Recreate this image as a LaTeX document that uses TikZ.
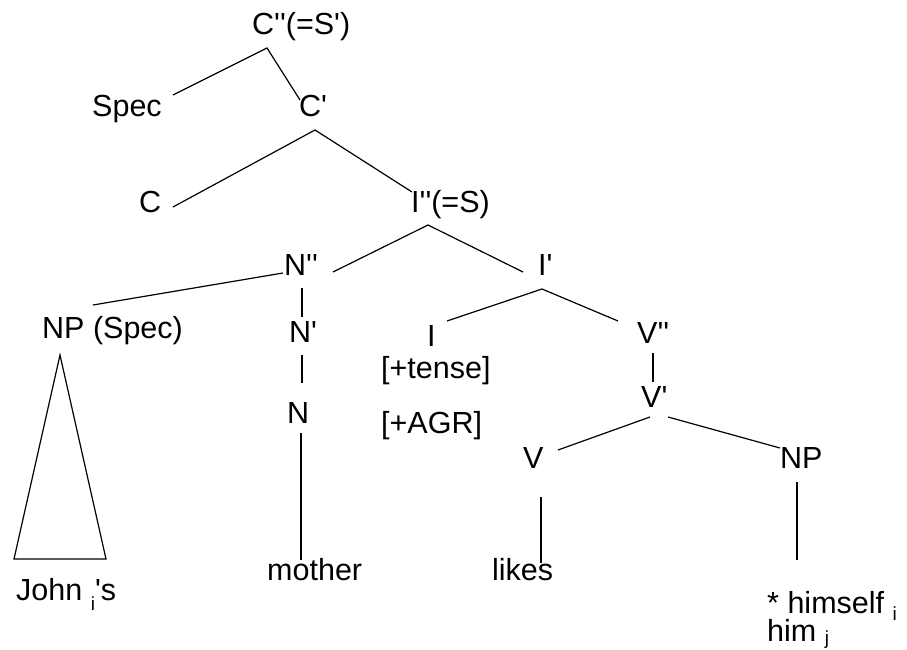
\documentclass[tikz,border=0pt]{standalone}
\usepackage{fontspec}
\newfontfamily\arl{Liberation Sans}
\newcommand{\sbi}[2]{\raisebox{#1}{\fontsize{19pt}{19pt}\selectfont #2}}
\begin{document}
\begin{tikzpicture}[x=1pt,y=-1pt,
  lbl/.style={inner sep=0pt,anchor=base west,font=\arl\fontsize{30.5pt}{32pt}\selectfont},
  edge/.style={line width=1.2pt,black}]
\useasboundingbox (0,0) rectangle (907,650);
% labels
\node[lbl] (cpp) at (252,35) {C''(=S')};
\node[lbl] (spec) at (92,117) {Spec};
\node[lbl] (cp) at (299,117) {C'};
\node[lbl] (c) at (139,212) {C};
\node[lbl] (ipp) at (411,212) {I''(=S)};
\node[lbl] (npp) at (284,275) {N''};
\node[lbl] (nps) at (42,338) {NP (Spec)};
\node[lbl] (np1) at (289,342) {N'};
\node[lbl] (n) at (287,423) {N};
\node[lbl] (ip) at (538,275) {I'};
\node[lbl] (i) at (427,346) {I};
\node[lbl] (tense) at (381,378) {[+tense]};
\node[lbl] (agr) at (381,433) {[+AGR]};
\node[lbl] (vpp) at (637,343) {V''};
\node[lbl] (vp) at (641,407) {V'};
\node[lbl] (v) at (523,468) {V};
\node[lbl] (np) at (780,468) {NP};
\node[lbl] (john) at (16,600) {John \sbi{-10pt}{i}'s};
\node[lbl] (mother) at (267,580) {mother};
\node[lbl] (likes) at (492,580) {likes};
\node[lbl] (himself) at (767,613) {* himself \sbi{-7pt}{i}};
\node[lbl] (him) at (767,641) {him \sbi{-3pt}{j}};
% connector end points
\coordinate (cpp-b) at (267,48);
\coordinate (spec-t) at (173,95);
\coordinate (cp-t) at (300,100);
\coordinate (cp-b) at (315,130);
\coordinate (c-t) at (173,207);
\coordinate (ipp-t) at (412,192);
\coordinate (ipp-b) at (428,225);
\coordinate (npp-t) at (333,272);
\coordinate (ip-t) at (523,272);
\coordinate (npp-l) at (283,273);
\coordinate (nps-t) at (93,305);
\coordinate (npp-b) at (302,288);
\coordinate (np1-t) at (302,317);
\coordinate (np1-b) at (302,355);
\coordinate (n-t) at (302,383);
\coordinate (n-b) at (301,433);
\coordinate (mother-t) at (301,560);
\coordinate (ip-b) at (542,289);
\coordinate (i-t) at (447,321);
\coordinate (vpp-t) at (618,321);
\coordinate (vpp-b) at (653,353);
\coordinate (vp-t) at (653,382);
\coordinate (vp-bl) at (650,417);
\coordinate (vp-br) at (668,417);
\coordinate (v-t) at (558,450);
\coordinate (np-t) at (780,448);
\coordinate (v-b) at (541,497);
\coordinate (likes-t) at (541,563);
\coordinate (np-b) at (797,482);
\coordinate (himself-t) at (797,560);
\coordinate (tri-top) at (60,355);
\coordinate (tri-bl) at (14,559);
\coordinate (tri-br) at (106,559);
% connectors
\draw[edge] (spec-t) -- (cpp-b) -- (cp-t);
\draw[edge] (c-t) -- (cp-b) -- (ipp-t);
\draw[edge] (npp-t) -- (ipp-b) -- (ip-t);
\draw[edge] (npp-l) -- (nps-t);
\draw[edge] (npp-b) -- (np1-t);
\draw[edge] (np1-b) -- (n-t);
\draw[edge] (n-b) -- (mother-t);
\draw[edge] (i-t) -- (ip-b) -- (vpp-t);
\draw[edge] (vpp-b) -- (vp-t);
\draw[edge] (vp-bl) -- (v-t);
\draw[edge] (vp-br) -- (np-t);
\draw[edge] (v-b) -- (likes-t);
\draw[edge] (np-b) -- (himself-t);
\draw[edge] (tri-top) -- (tri-bl) -- (tri-br) -- cycle;
\end{tikzpicture}
\end{document}
